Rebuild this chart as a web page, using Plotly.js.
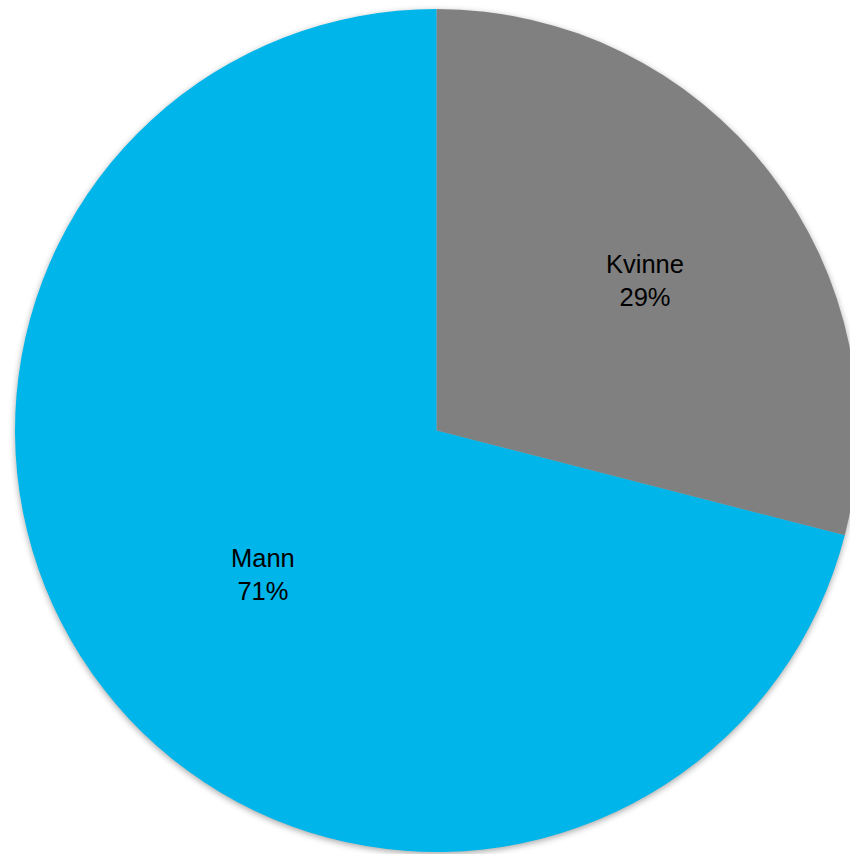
<!DOCTYPE html>
<html>
<head>
<meta charset="utf-8">
<script src="https://cdn.plot.ly/plotly-3.0.1.min.js"></script>
<style>
  html, body { margin: 0; padding: 0; overflow: hidden; background: #ffffff; }
  #chart { width: 858px; height: 854px; }
  .pielayer { filter: drop-shadow(0px 2px 3px rgba(0,0,0,0.35)); }
</style>
</head>
<body>
<div id="chart"></div>
<script>
const categories = ["Kvinne", "Mann"];
const values = [29, 71];
const colors = ["#808080", "#00B5E9"];

// label placement style (fraction of radius, angular nudge in degrees)
const labelRadiusFrac = [0.61, 0.536];
const labelAngleNudge = [2.0, -1.9];

const total = values.reduce((a, b) => a + b, 0);
let cum = 0;
const annotations = values.map((v, i) => {
  const mid = (cum + v / 2) / total * 360 + labelAngleNudge[i];
  cum += v;
  const rad = mid * Math.PI / 180;
  const f = labelRadiusFrac[i];
  return {
    xref: "paper", yref: "paper",
    x: 0.5 + f * 0.5 * Math.sin(rad),
    y: 0.5 + f * 0.5 * Math.cos(rad),
    xanchor: "center", yanchor: "middle",
    text: categories[i] + "<br>" + Math.round(v / total * 100) + "%",
    showarrow: false,
    align: "center",
    font: { family: "Liberation Sans, Arial, sans-serif", size: 25.5, color: "#000000" }
  };
});

const trace = {
  type: "pie",
  labels: categories,
  values: values,
  sort: false,
  direction: "clockwise",
  rotation: 0,
  marker: { colors: colors, line: { width: 0 } },
  textinfo: "none",
  hoverinfo: "none",
  showlegend: false
};

const layout = {
  width: 858,
  height: 854,
  margin: { l: 15, r: 0, t: 9, b: 2, pad: 0 },
  paper_bgcolor: "#ffffff",
  plot_bgcolor: "#ffffff",
  showlegend: false,
  annotations: annotations
};

Plotly.newPlot("chart", [trace], layout, { staticPlot: true, displayModeBar: false });
</script>
</body>
</html>
